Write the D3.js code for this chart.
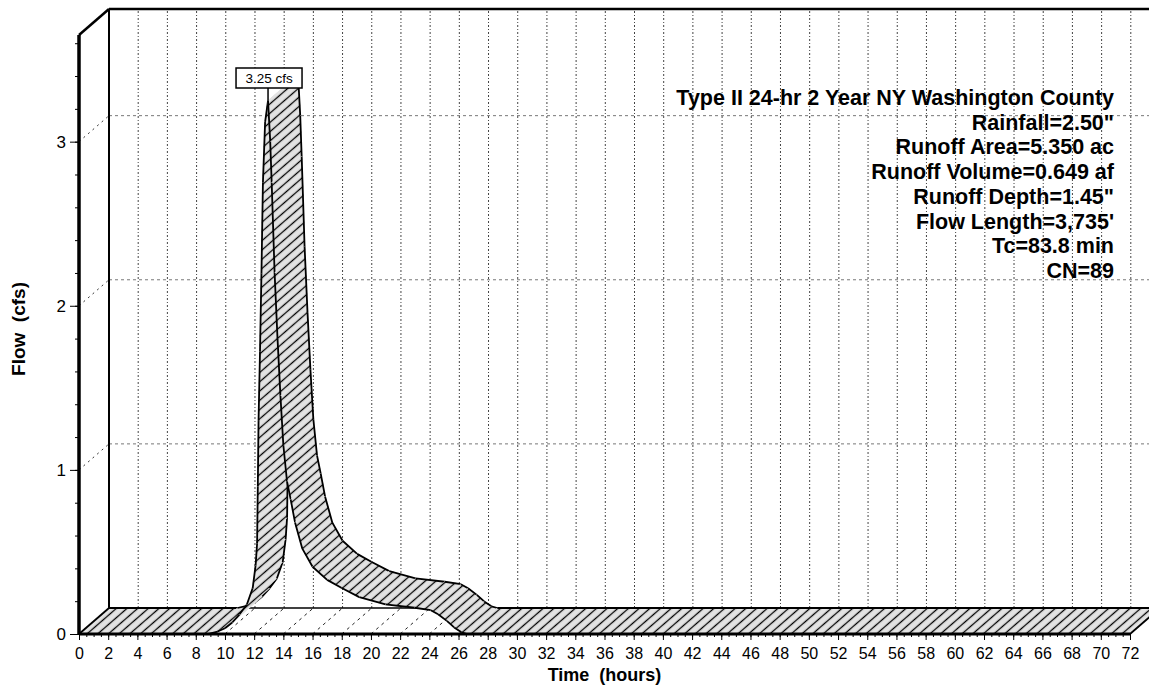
<!DOCTYPE html>
<html>
<head>
<meta charset="utf-8">
<script src="https://cdn.jsdelivr.net/npm/d3@7"></script>
<style>
body { margin: 0; background: #fff; }
svg { display: block; font-family: "Liberation Sans", Arial, sans-serif; }
</style>
</head>
<body>
<svg id="chart" width="1149" height="685"></svg>
<script>

// hydrograph (hours, cfs)
const timeHours = [0, 8.8, 9.5, 10.0, 10.5, 11.0, 11.5, 11.9, 12.1, 12.2, 12.25, 12.3, 12.4, 12.5, 12.6, 12.75, 12.95, 13.1, 13.2, 13.4, 13.6, 13.8, 14.0, 14.25, 14.5, 14.8, 15.3, 16.0, 17.0, 18.0, 19.2, 21.0, 23.0, 24.1, 24.6, 25.2, 25.7, 26.2, 26.6, 72]
const flowCfs   = [0, 0, 0.015, 0.035, 0.07, 0.12, 0.18, 0.28, 0.42, 0.55, 0.9, 1.3, 1.72, 2.2, 2.75, 3.12, 3.25, 3.0, 2.75, 2.2, 1.8, 1.45, 1.15, 0.93, 0.82, 0.68, 0.52, 0.41, 0.33, 0.28, 0.225, 0.18, 0.16, 0.145, 0.12, 0.08, 0.04, 0.01, 0, 0]

const xTicks = d3.range(0, 73, 2)
const yTicks = [0, 1, 2, 3]
const yGrid = [1, 2, 3]

const peakLabel = "3.25 cfs"
const peakTime = 12.95
const peakFlow = 3.25

const infoLines = [
  "Type II 24-hr 2 Year NY Washington County",
  "Rainfall=2.50\"",
  "Runoff Area=5.350 ac",
  "Runoff Volume=0.649 af",
  "Runoff Depth=1.45\"",
  "Flow Length=3,735'",
  "Tc=83.8 min",
  "CN=89"
]

const svg = d3.select("#chart")

const x = d3.scaleLinear().domain([0, 72]).range([79, 1130])
const y = d3.scaleLinear().domain([0, 3.65]).range([634, 35])
const dX = 30, dY = -26   // depth offset of the back wall

// hatch used for the ribbon
const defs = svg.append("defs")
const hatch = defs.append("pattern")
  .attr("id", "hatch")
  .attr("patternUnits", "userSpaceOnUse")
  .attr("width", 7)
  .attr("height", 7)
  .attr("patternTransform", "rotate(-41)")
hatch.append("rect")
  .attr("width", 7).attr("height", 7)
  .attr("fill", "#e3e3e3")
hatch.append("line")
  .attr("x1", 0).attr("x2", 7)
  .attr("y1", 3.5).attr("y2", 3.5)
  .attr("stroke", "#000")
  .attr("stroke-width", 1.3)

const grid = svg.append("g")

// back wall vertical grid
grid.selectAll(".vgrid")
  .data(xTicks.filter(d => d > 0))
  .enter().append("line")
  .attr("x1", d => x(d) + dX).attr("x2", d => x(d) + dX)
  .attr("y1", y(0) + dY).attr("y2", y(3.65) + dY)
  .attr("stroke", "#444")
  .attr("stroke-width", 1)
  .attr("stroke-dasharray", "2,2,1,2")

// floor diagonals
grid.selectAll(".fgrid")
  .data(xTicks.filter(d => d > 0 && d < 72))
  .enter().append("line")
  .attr("x1", d => x(d)).attr("x2", d => x(d) + dX)
  .attr("y1", y(0)).attr("y2", y(0) + dY)
  .attr("stroke", "#222")
  .attr("stroke-width", 1)
  .attr("stroke-dasharray", "3,4")

// back wall horizontal grid
grid.selectAll(".hgrid")
  .data(yGrid)
  .enter().append("line")
  .attr("x1", x(0) + dX).attr("x2", x(72) + dX)
  .attr("y1", d => y(d) + dY).attr("y2", d => y(d) + dY)
  .attr("stroke", "#777")
  .attr("stroke-width", 1)
  .attr("stroke-dasharray", "3,3")

// side wall diagonals
grid.selectAll(".sgrid")
  .data(yGrid)
  .enter().append("line")
  .attr("x1", x(0)).attr("x2", x(0) + dX)
  .attr("y1", d => y(d)).attr("y2", d => y(d) + dY)
  .attr("stroke", "#333")
  .attr("stroke-width", 1)
  .attr("stroke-dasharray", "2,4")

// back wall frame
svg.append("line")
  .attr("x1", x(0) + dX).attr("x2", x(0) + dX)
  .attr("y1", y(3.65) + dY).attr("y2", y(0) + dY)
  .attr("stroke", "#000").attr("stroke-width", 2)
svg.append("line")
  .attr("x1", x(0) + dX).attr("x2", x(72) + dX)
  .attr("y1", y(0) + dY).attr("y2", y(0) + dY)
  .attr("stroke", "#000").attr("stroke-width", 1.5)
svg.append("line")
  .attr("x1", x(0) + dX).attr("x2", x(72) + dX)
  .attr("y1", y(3.65) + dY).attr("y2", y(3.65) + dY)
  .attr("stroke", "#000").attr("stroke-width", 2.5)
svg.append("line")
  .attr("x1", x(0)).attr("x2", x(0) + dX)
  .attr("y1", y(3.65)).attr("y2", y(3.65) + dY)
  .attr("stroke", "#000").attr("stroke-width", 2.5)

// ribbon, one slab per time step, painted in time order
const pts = timeHours.map((t, i) => [x(t), y(flowCfs[i])])
const ribbon = svg.append("g")

for (let i = 0; i < pts.length - 1; i++) {
  let f0 = pts[i], f1 = pts[i + 1]
  let b0 = [f0[0] + dX, f0[1] + dY], b1 = [f1[0] + dX, f1[1] + dY]
  ribbon.append("path")
    .attr("d", "M" + [f0, f1, b1, b0].join("L") + "Z")
    .attr("fill", "url(#hatch)")
    .attr("stroke", "url(#hatch)")
    .attr("stroke-width", 0.8)
  ribbon.append("path")
    .attr("d", "M" + f0 + "L" + f1 + "M" + b0 + "L" + b1)
    .attr("fill", "none")
    .attr("stroke", "#000")
    .attr("stroke-width", 1.8)
}
// end ribs
;[pts[0], pts[pts.length - 1]].forEach(p => {
  ribbon.append("line")
    .attr("x1", p[0]).attr("y1", p[1])
    .attr("x2", p[0] + dX).attr("y2", p[1] + dY)
    .attr("stroke", "#000").attr("stroke-width", 1.8)
})

// front axes
svg.append("line")
  .attr("x1", x(0)).attr("x2", x(0))
  .attr("y1", y(3.65)).attr("y2", y(0))
  .attr("stroke", "#000").attr("stroke-width", 3.5)
svg.append("line")
  .attr("x1", x(0)).attr("x2", x(72))
  .attr("y1", y(0)).attr("y2", y(0))
  .attr("stroke", "#000").attr("stroke-width", 3)

const xAxis = svg.append("g")
  .attr("transform", "translate(0," + y(0) + ")")
  .call(d3.axisBottom(x).tickValues(xTicks).tickSize(6).tickPadding(8))
xAxis.select(".domain").remove()
xAxis.selectAll("text").attr("font-size", 16).attr("font-family", null)

const xMinor = svg.append("g")
  .attr("transform", "translate(0," + y(0) + ")")
  .call(d3.axisBottom(x).tickValues(d3.range(0, 72.01, 0.5)).tickSize(3).tickFormat(""))
xMinor.select(".domain").remove()

const yAxis = svg.append("g")
  .attr("transform", "translate(" + x(0) + ",0)")
  .call(d3.axisLeft(y).tickValues(yTicks).tickFormat(d3.format("d")).tickSize(9).tickPadding(4))
yAxis.select(".domain").remove()
yAxis.selectAll("text").attr("font-size", 17).attr("font-family", null)

const yMinor = svg.append("g")
  .attr("transform", "translate(" + x(0) + ",0)")
  .call(d3.axisLeft(y).tickValues(d3.range(0, 3.61, 0.2)).tickSize(4).tickFormat(""))
yMinor.select(".domain").remove()

// axis titles
svg.append("text")
  .attr("x", (x(0) + x(72)) / 2)
  .attr("y", 681)
  .attr("text-anchor", "middle")
  .attr("font-size", 18)
  .attr("font-weight", "bold")
  .style("white-space", "pre")
  .text("Time  (hours)")

svg.append("text")
  .attr("transform", "translate(25,329) rotate(-90)")
  .attr("text-anchor", "middle")
  .attr("font-size", 19)
  .attr("font-weight", "bold")
  .style("white-space", "pre")
  .text("Flow  (cfs)")

// info block
svg.append("g")
  .selectAll("text")
  .data(infoLines)
  .enter().append("text")
  .attr("x", 1114)
  .attr("y", (d, i) => 105 + i * 24.7)
  .attr("text-anchor", "end")
  .attr("font-size", 21.5)
  .attr("font-weight", "bold")
  .text(d => d)

// peak label
const px = x(peakTime), py = y(peakFlow)
svg.append("line")
  .attr("x1", px).attr("x2", px)
  .attr("y1", 88).attr("y2", py)
  .attr("stroke", "#000").attr("stroke-width", 1.5)
svg.append("rect")
  .attr("x", px - 32).attr("y", 68)
  .attr("width", 66).attr("height", 20)
  .attr("fill", "#fff")
  .attr("stroke", "#000").attr("stroke-width", 1.5)
svg.append("text")
  .attr("x", px + 1).attr("y", 83)
  .attr("text-anchor", "middle")
  .attr("font-size", 13.5)
  .text(peakLabel)

</script>
</body>
</html>
